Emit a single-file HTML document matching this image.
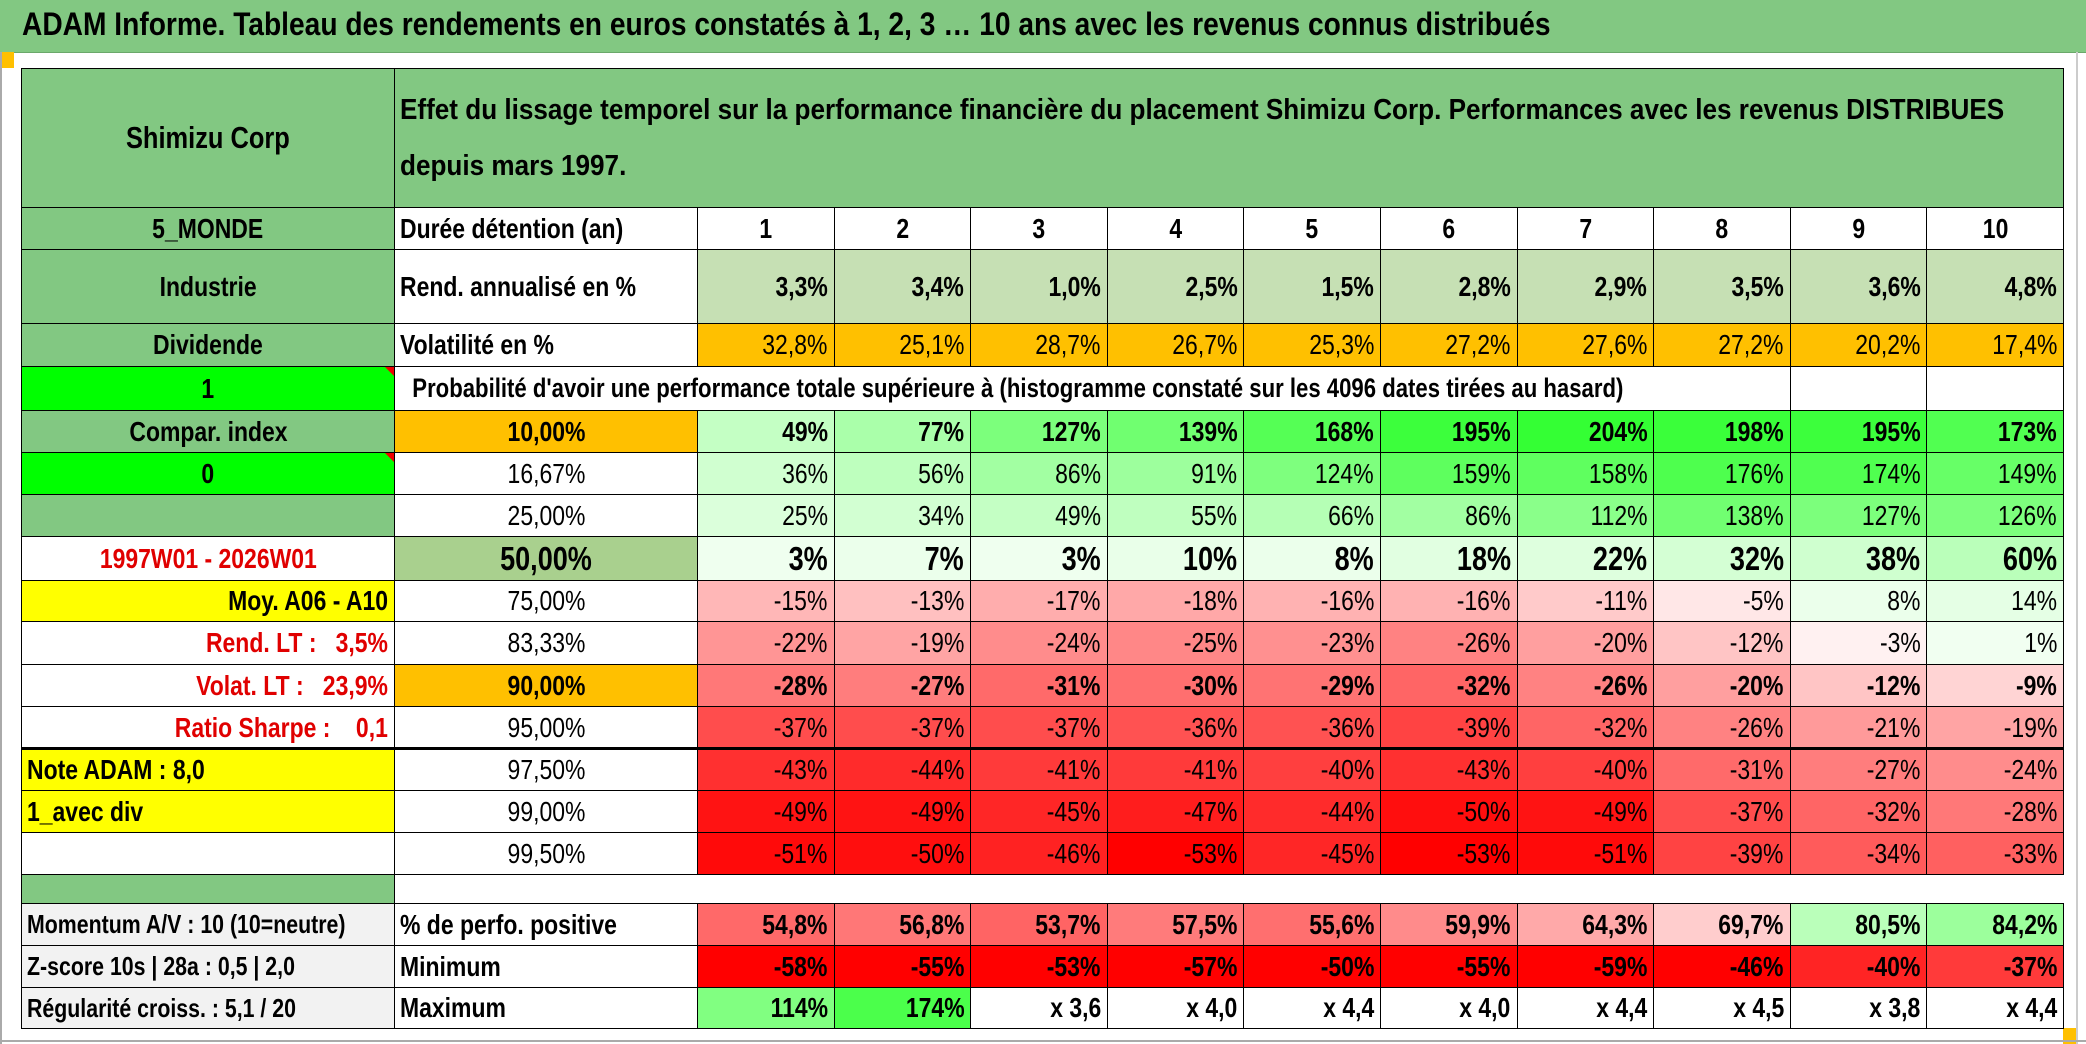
<!DOCTYPE html>
<html><head><meta charset="utf-8">
<style>
html,body{margin:0;padding:0;background:#fff;}
#page{position:relative;width:2086px;height:1044px;overflow:hidden;background:#fff;font-family:"Liberation Sans",sans-serif;color:#000;}
.c{position:absolute;box-sizing:border-box;border:1px solid #000;display:flex;align-items:center;overflow:visible;white-space:pre;font-size:28px;}
.c span{display:inline-block;transform:scaleX(.82);}
.r{justify-content:flex-end;padding-right:6px;}
.r span{transform-origin:right center;}
.m{justify-content:center;}
.l{justify-content:flex-start;padding-left:5px;}
.l span{transform-origin:left center;}
.b{font-weight:bold;}
.tri{position:absolute;right:0;top:0;width:0;height:0;border-top:9px solid #e00;border-left:9px solid transparent;}
</style></head>
<body>
<div id="page">
  <div style="position:absolute;left:0;top:0;width:2086px;height:52px;background:#82c882;border-bottom:1px solid #6aa86a;"></div>
  <div style="position:absolute;left:22px;top:6px;font-size:32px;font-weight:bold;white-space:nowrap;transform:scaleX(.88);transform-origin:left center;">ADAM Informe. Tableau des rendements en euros constatés à 1, 2, 3 … 10 ans avec les revenus connus distribués</div>
  <div style="position:absolute;left:0;top:52px;width:14px;height:16px;background:#ffc000;"></div>
  <div style="position:absolute;left:2063px;top:1028px;width:14px;height:16px;background:#ffc000;"></div>
  <div style="position:absolute;left:0;top:52px;width:2px;height:992px;background:#aaa;"></div>
  <div style="position:absolute;left:2076px;top:52px;width:2px;height:992px;background:#ccc;"></div>
  <div style="position:absolute;left:0;top:1040px;width:2086px;height:2px;background:#aaa;"></div>
</div>
<script>
const years = ['1','2','3','4','5','6','7','8','9','10'];
const rendAnn = [3.3,3.4,1.0,2.5,1.5,2.8,2.9,3.5,3.6,4.8];
const volat = [32.8,25.1,28.7,26.7,25.3,27.2,27.6,27.2,20.2,17.4];
const pctLabels = ['10,00%','16,67%','25,00%','50,00%','75,00%','83,33%','90,00%','95,00%','97,50%','99,00%','99,50%'];
const p10 = [49,77,127,139,168,195,204,198,195,173];
const p16 = [36,56,86,91,124,159,158,176,174,149];
const p25 = [25,34,49,55,66,86,112,138,127,126];
const p50 = [3,7,3,10,8,18,22,32,38,60];
const p75 = [-15,-13,-17,-18,-16,-16,-11,-5,8,14];
const p83 = [-22,-19,-24,-25,-23,-26,-20,-12,-3,1];
const p90 = [-28,-27,-31,-30,-29,-32,-26,-20,-12,-9];
const p95 = [-37,-37,-37,-36,-36,-39,-32,-26,-21,-19];
const p975 = [-43,-44,-41,-41,-40,-43,-40,-31,-27,-24];
const p99 = [-49,-49,-45,-47,-44,-50,-49,-37,-32,-28];
const p995 = [-51,-50,-46,-53,-45,-53,-51,-39,-34,-33];
const posPerf = [54.8,56.8,53.7,57.5,55.6,59.9,64.3,69.7,80.5,84.2];
const minPerf = [-58,-55,-53,-57,-50,-55,-59,-46,-40,-37];
const maxPerf = [114,174,260,300,340,300,340,350,280,340];

const page = document.getElementById('page');
const X0=21, X1=394, X2=697, CW=136.6;
const Y = [68,207,249,323,366,410,452,494,536,580,621,664,706,748,790,832,874,903,945,987,1028];
function fmt1(v){return v.toFixed(1).replace('.',',');}
function lerp(a,b,t){return Math.round(a+(b-a)*t);}
function rgb(r,g,b){return 'rgb('+r+','+g+','+b+')';}
function gridColor(v){
  if(v<0){const t=Math.min(1,-v/53);return rgb(255,lerp(255,0,t),lerp(255,0,t));}
  const t=Math.min(1,v/205);return rgb(lerp(242,51,t),255,lerp(242,51,t));
}
function posColor(v){
  if(v<75){const t=Math.min(1,(75-v)/21);return rgb(255,lerp(240,100,t),lerp(240,100,t));}
  const t=Math.min(1,(v-75)/10);return rgb(lerp(230,150,t),255,lerp(230,150,t));
}
function minColor(v){const t=Math.max(0,Math.min(1,(-v-10)/35));return rgb(255,lerp(255,0,t),lerp(255,0,t));}
function maxColor(v){if(v>=200)return '#fff';const t=Math.min(1,v/180);return rgb(lerp(230,70,t),255,lerp(230,70,t));}
function cell(x,y,w,h,text,cls,bg,name,extra){
  const d=document.createElement('div');
  d.className='c '+(cls||'');
  d.style.left=x+'px';d.style.top=y+'px';d.style.width=(w+1)+'px';d.style.height=(h+1)+'px';
  if(bg)d.style.background=bg;
  if(extra)Object.assign(d.style,extra);
  
  
  if(text!==''){const s=document.createElement('span');s.textContent=text;d.appendChild(s);}
  page.appendChild(d);return d;
}
function colX(i){return X2+CW*i;}
function row(ri){return [Y[ri],Y[ri+1]-Y[ri]];}

let [y,h]=row(0);
cell(X0,y,X1-X0,h,'Shimizu Corp','m b','#82c882','company-name',{fontSize:'31px'});
const hd=cell(X1,y,2063-X1,h,'','l b','#82c882','header-description',{fontSize:'29px'});
const hs=document.createElement('span');hs.style.lineHeight='56px';hs.style.transformOrigin='left center';hs.style.transform='scaleX(.90)';
hs.innerHTML='Effet du lissage temporel sur la performance financière du placement Shimizu Corp. Performances avec les revenus DISTRIBUES<br>depuis mars 1997.';
hd.appendChild(hs);

const leftLabels=[
 [1,'5_MONDE','m b','#82c882',{}],
 [2,'Industrie','m b','#82c882',{}],
 [3,'Dividende','m b','#82c882',{}],
 [4,'1','m b','#00ff00',{}],
 [5,'Compar. index','m b','#82c882',{}],
 [6,'0','m b','#00ff00',{}],
 [7,'','m','#82c882',{}],
 [8,'1997W01 - 2026W01','m b','#fff',{color:'#e00000'}],
 [9,'Moy. A06 - A10','r b','#ffff00',{}],
 [10,'Rend. LT :   3,5%','r b','#fff',{color:'#e00000'}],
 [11,'Volat. LT :   23,9%','r b','#fff',{color:'#e00000'}],
 [12,'Ratio Sharpe :    0,1','r b','#fff',{color:'#e00000'}],
 [13,'Note ADAM : 8,0','l b','#ffff00',{}],
 [14,'1_avec div','l b','#ffff00',{}],
 [15,'','m','#fff',{}],
 [16,'','m','#82c882',{}],
 [17,'Momentum A/V : 10 (10=neutre)','l b','#f2f2f2',{fontSize:'26px'}],
 [18,'Z-score 10s | 28a : 0,5 | 2,0','l b','#f2f2f2',{fontSize:'26px'}],
 [19,'Régularité croiss. : 5,1 / 20','l b','#f2f2f2',{fontSize:'26px'}]
];
leftLabels.forEach(a=>{const [yy,hh]=row(a[0]);const d=cell(X0,yy,X1-X0,hh,a[1],a[2],a[3],'left-label-'+a[0],a[4]);
  if(a[1]==='1'||a[1]==='0'){const t=document.createElement('div');t.className='tri';d.appendChild(t);}});

[y,h]=row(1);
cell(X1,y,X2-X1,h,'Durée détention (an)','l b','#fff','holding-period-label');
years.forEach((v,i)=>cell(colX(i),y,CW,h,v,'m b','#fff','year-'+v));
[y,h]=row(2);
cell(X1,y,X2-X1,h,'Rend. annualisé en %','l b','#fff','annual-return-label');
rendAnn.forEach((v,i)=>cell(colX(i),y,CW,h,fmt1(v)+'%','r b','#c6e0b4','annual-return-'+years[i]));
[y,h]=row(3);
cell(X1,y,X2-X1,h,'Volatilité en %','l b','#fff','volatility-label');
volat.forEach((v,i)=>cell(colX(i),y,CW,h,fmt1(v)+'%','r','#ffc000','volatility-'+years[i]));
[y,h]=row(4);
cell(X1,y,colX(8)-X1,h,"  Probabilité d'avoir une performance totale supérieure à (histogramme constaté sur les 4096 dates tirées au hasard)",'l b','#fff','probability-caption',{fontSize:'27px'});
cell(colX(8),y,CW,h,'','m','#fff','blank-9');cell(colX(9),y,CW,h,'','m','#fff','blank-10');

const grid=[p10,p16,p25,p50,p75,p83,p90,p95,p975,p99,p995];
const boldRows=[0,3,6];
grid.forEach((arr,ri)=>{
  const [yy,hh]=row(5+ri);
  const isB=boldRows.includes(ri);
  const lblBg= ri===0||ri===6 ? '#ffc000' : (ri===3?'#a9d08e':'#fff');
  const ex = ri===3?{fontSize:'33px'}:{};
  cell(X1,yy,X2-X1,hh,pctLabels[ri],'m'+(isB?' b':''),lblBg,'percentile-label-'+ri,ex);
  arr.forEach((v,i)=>cell(colX(i),yy,CW,hh,v+'%','r'+(isB?' b':''),gridColor(v),'percentile-'+ri+'-year-'+years[i],ex));
});
const tb=document.createElement('div');
tb.style.cssText='position:absolute;left:'+X0+'px;top:'+(Y[13]-1)+'px;width:'+(2063-X0)+'px;height:3px;background:#000;';


page.appendChild(tb);

[y,h]=row(17);
cell(X1,y,X2-X1,h,'% de perfo. positive','l b','#fff','positive-share-label');
posPerf.forEach((v,i)=>cell(colX(i),y,CW,h,fmt1(v)+'%','r b',posColor(v),'positive-share-'+years[i]));
[y,h]=row(18);
cell(X1,y,X2-X1,h,'Minimum','l b','#fff','minimum-label');
minPerf.forEach((v,i)=>cell(colX(i),y,CW,h,v+'%','r b',minColor(v),'minimum-'+years[i]));
[y,h]=row(19);
cell(X1,y,X2-X1,h,'Maximum','l b','#fff','maximum-label');
maxPerf.forEach((v,i)=>{const t=v>=200?'x '+fmt1(1+v/100):v+'%';cell(colX(i),y,CW,h,t,'r b',maxColor(v),'maximum-'+years[i]);});
</script>
</body></html>
